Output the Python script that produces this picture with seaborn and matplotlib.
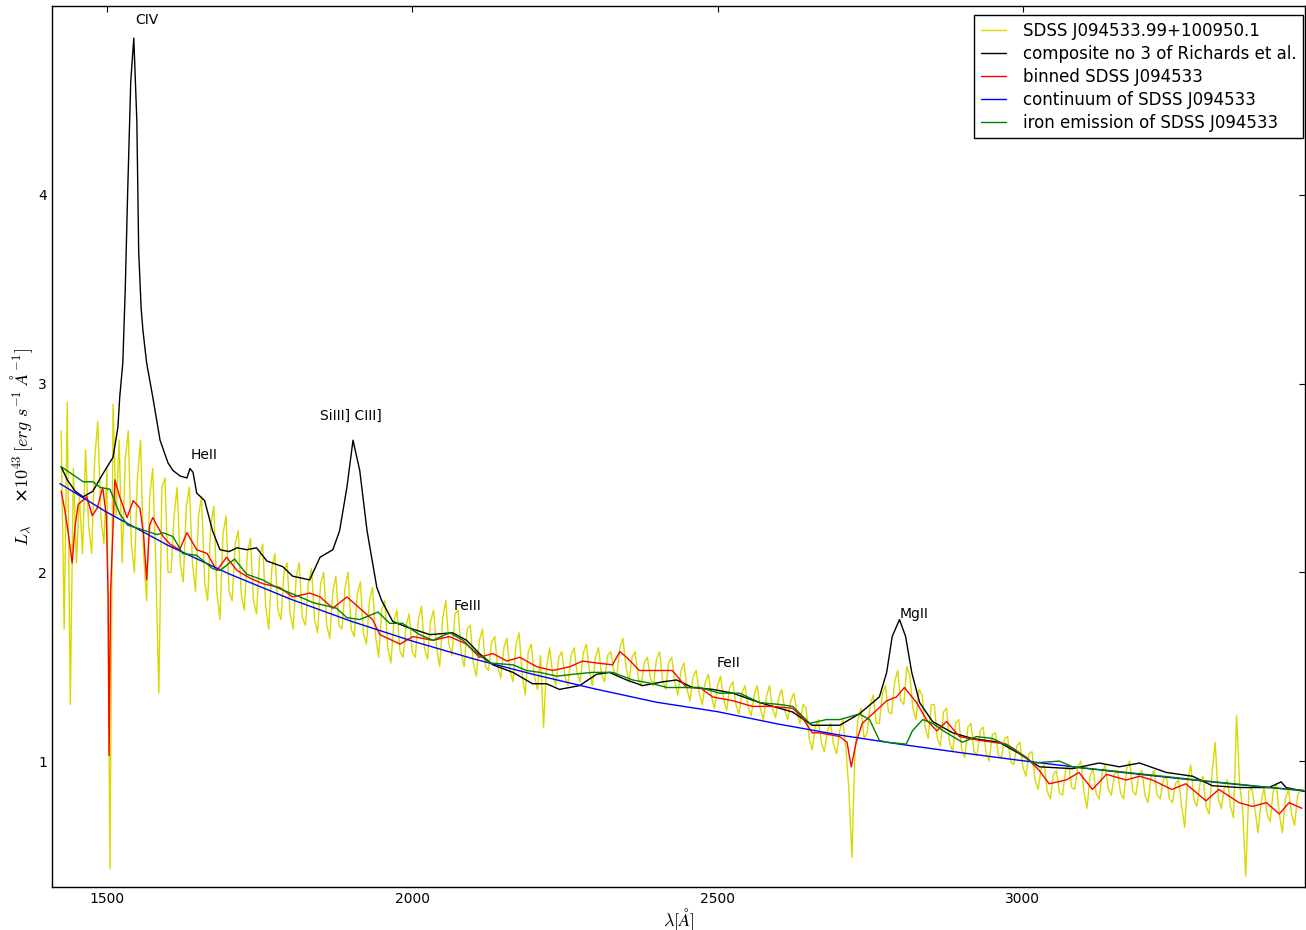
import numpy as np
import pandas as pd
import matplotlib
matplotlib.use("Agg")
import matplotlib.pyplot as plt
import seaborn as sns

# observed SDSS spectrum, one value every 5 A starting at 1425 A (20 values = 100 A per row)
sdss_wave = np.arange(1425, 3456, 5)
sdss_flux = [
    2.75, 1.70, 2.90, 1.30, 2.55, 2.05, 2.40, 2.10, 2.65, 2.25, 2.10, 2.60, 2.80, 2.30, 2.15, 2.55, 0.43, 2.89, 2.30, 2.70,  # 1425
    2.05, 2.60, 2.75, 2.15, 2.00, 2.50, 2.70, 2.10, 1.85, 2.40, 2.55, 2.05, 1.36, 2.45, 2.50, 2.00, 2.00, 2.30, 2.45, 2.05,  # 1525
    1.95, 2.35, 2.45, 2.05, 1.90, 2.30, 2.40, 1.95, 1.85, 2.25, 2.35, 1.90, 1.75, 2.20, 2.30, 1.90, 1.85, 2.15, 2.22, 1.88,  # 1625
    1.80, 2.10, 2.18, 1.85, 1.78, 2.08, 2.15, 1.82, 1.70, 2.02, 2.10, 1.80, 1.75, 2.00, 2.05, 1.78, 1.70, 1.98, 2.05, 1.76,  # 1725
    1.72, 1.95, 2.02, 1.75, 1.68, 1.94, 2.00, 1.72, 1.65, 1.90, 1.98, 1.72, 1.70, 1.92, 2.00, 1.70, 1.66, 1.88, 1.95, 1.68,  # 1825
    1.62, 1.85, 1.92, 1.66, 1.55, 1.80, 1.85, 1.60, 1.52, 1.74, 1.80, 1.58, 1.55, 1.72, 1.78, 1.58, 1.55, 1.75, 1.82, 1.60,  # 1925
    1.54, 1.74, 1.80, 1.60, 1.50, 1.76, 1.85, 1.62, 1.56, 1.78, 1.80, 1.58, 1.50, 1.70, 1.72, 1.52, 1.45, 1.64, 1.70, 1.50,  # 2025
    1.48, 1.63, 1.66, 1.50, 1.44, 1.60, 1.65, 1.48, 1.42, 1.62, 1.68, 1.46, 1.35, 1.58, 1.62, 1.45, 1.38, 1.56, 1.18, 1.50,  # 2125
    1.60, 1.46, 1.40, 1.55, 1.58, 1.45, 1.40, 1.56, 1.60, 1.47, 1.42, 1.57, 1.62, 1.48, 1.40, 1.55, 1.60, 1.46, 1.42, 1.56,  # 2225
    1.58, 1.48, 1.45, 1.60, 1.65, 1.50, 1.42, 1.55, 1.58, 1.44, 1.40, 1.52, 1.55, 1.44, 1.40, 1.54, 1.58, 1.43, 1.38, 1.52,  # 2325
    1.55, 1.42, 1.35, 1.48, 1.52, 1.38, 1.32, 1.45, 1.48, 1.36, 1.30, 1.42, 1.46, 1.34, 1.28, 1.40, 1.45, 1.33, 1.27, 1.39,  # 2425
    1.42, 1.30, 1.25, 1.36, 1.40, 1.29, 1.24, 1.35, 1.40, 1.28, 1.22, 1.34, 1.40, 1.28, 1.23, 1.33, 1.38, 1.27, 1.22, 1.32,  # 2525
    1.36, 1.26, 1.20, 1.30, 1.28, 1.12, 1.06, 1.18, 1.22, 1.10, 1.05, 1.16, 1.20, 1.09, 1.04, 1.16, 1.22, 1.08, 0.85, 0.49,  # 2625
    1.05, 1.22, 1.28, 1.12, 1.15, 1.30, 1.35, 1.20, 1.20, 1.36, 1.40, 1.26, 1.25, 1.42, 1.48, 1.32, 1.30, 1.50, 1.45, 1.28,  # 2725
    1.22, 1.38, 1.35, 1.18, 1.12, 1.30, 1.30, 1.12, 1.08, 1.26, 1.28, 1.10, 1.05, 1.20, 1.22, 1.06, 1.02, 1.18, 1.20, 1.05,  # 2825
    1.03, 1.16, 1.18, 1.04, 1.00, 1.14, 1.15, 1.03, 1.02, 1.12, 1.13, 1.00, 0.98, 1.08, 1.10, 0.97, 0.92, 1.04, 1.05, 0.90,  # 2925
    0.85, 0.96, 0.98, 0.84, 0.80, 0.93, 0.95, 0.83, 0.82, 0.95, 0.98, 0.86, 0.85, 0.97, 1.00, 0.84, 0.75, 0.92, 0.96, 0.83,  # 3025
    0.80, 0.94, 0.98, 0.85, 0.82, 0.93, 0.95, 0.83, 0.80, 0.96, 1.00, 0.84, 0.82, 0.93, 0.95, 0.82, 0.78, 0.92, 0.95, 0.82,  # 3125
    0.80, 0.90, 0.92, 0.80, 0.78, 0.88, 0.90, 0.76, 0.65, 0.90, 0.98, 0.80, 0.76, 0.88, 0.92, 0.76, 0.72, 0.94, 1.10, 0.80,  # 3225
    0.75, 0.86, 0.90, 0.76, 0.70, 1.24, 0.88, 0.74, 0.39, 0.84, 0.86, 0.75, 0.62, 0.78, 0.86, 0.72, 0.68, 0.84, 0.88, 0.72,  # 3325
    0.62, 0.80, 0.85, 0.72, 0.66, 0.82, 0.85,                                                                               # 3425
]

# composite no 3 of Richards et al.
comp_wave = [1425, 1435, 1448, 1461, 1477, 1493, 1510, 1518, 1521, 1526,
             1530, 1534, 1539, 1544, 1549, 1552, 1556, 1559, 1565, 1575,
             1587, 1600, 1608, 1620, 1631, 1636, 1641, 1647, 1660, 1673,
             1685, 1700, 1713, 1729, 1745, 1762, 1788, 1804, 1832, 1849,
             1870, 1881, 1893, 1903, 1914, 1926, 1942, 1950, 1968, 1991,
             2029, 2066, 2089, 2110, 2132, 2165, 2197, 2220, 2241, 2274,
             2302, 2323, 2351, 2377, 2410, 2433, 2459, 2492, 2525, 2569,
             2623, 2655, 2700, 2732, 2765, 2777, 2786, 2798, 2808, 2818,
             2831, 2852, 2885, 2917, 2961, 2994, 3027, 3081, 3125, 3158,
             3191, 3235, 3278, 3310, 3354, 3403, 3423, 3431, 3461]
comp_flux = [2.56, 2.49, 2.43, 2.40, 2.43, 2.52, 2.61, 2.77, 2.93, 3.11,
             3.50, 4.02, 4.60, 4.83, 4.39, 3.70, 3.40, 3.28, 3.11, 2.93,
             2.70, 2.58, 2.54, 2.51, 2.50, 2.55, 2.53, 2.42, 2.38, 2.22,
             2.12, 2.11, 2.13, 2.12, 2.13, 2.06, 2.03, 1.98, 1.96, 2.08,
             2.12, 2.22, 2.45, 2.70, 2.54, 2.22, 1.92, 1.85, 1.74, 1.71,
             1.67, 1.68, 1.64, 1.57, 1.51, 1.47, 1.41, 1.41, 1.38, 1.40,
             1.46, 1.47, 1.43, 1.40, 1.42, 1.43, 1.39, 1.38, 1.36, 1.31,
             1.26, 1.19, 1.19, 1.25, 1.34, 1.47, 1.66, 1.75, 1.66, 1.47,
             1.31, 1.21, 1.15, 1.12, 1.10, 1.04, 0.97, 0.96, 0.99, 0.97,
             0.99, 0.94, 0.92, 0.87, 0.86, 0.86, 0.89, 0.86, 0.84]

# binned SDSS J094533
binned_wave = [1425, 1431, 1437, 1443, 1448, 1453, 1467, 1476, 1484, 1493,
               1499, 1502, 1503.5, 1506, 1513, 1521, 1533, 1543, 1554, 1560,
               1565, 1570, 1575, 1592, 1603, 1619, 1631, 1647, 1664, 1680,
               1696, 1713, 1734, 1755, 1783, 1804, 1832, 1849, 1870, 1893,
               1914, 1935, 1947, 1980, 2001, 2034, 2061, 2089, 2110, 2132,
               2155, 2176, 2204, 2230, 2258, 2279, 2302, 2328, 2340, 2351,
               2372, 2400, 2426, 2449, 2471, 2492, 2525, 2557, 2590, 2623,
               2639, 2655, 2667, 2700, 2712, 2719, 2727, 2737, 2754, 2777,
               2793, 2806, 2826, 2842, 2859, 2875, 2896, 2929, 2973, 3006,
               3027, 3043, 3071, 3092, 3114, 3137, 3169, 3191, 3212, 3244,
               3267, 3300, 3321, 3354, 3376, 3399, 3420, 3436, 3457]
binned_flux = [2.43, 2.33, 2.20, 2.05, 2.25, 2.36, 2.40, 2.30, 2.34, 2.45,
               2.30, 1.87, 1.03, 1.90, 2.49, 2.40, 2.29, 2.38, 2.34, 2.20,
               1.96, 2.25, 2.29, 2.19, 2.15, 2.12, 2.21, 2.12, 2.10, 2.01,
               2.08, 2.01, 1.97, 1.94, 1.92, 1.87, 1.89, 1.87, 1.81, 1.87,
               1.81, 1.75, 1.67, 1.62, 1.66, 1.64, 1.66, 1.62, 1.55, 1.57,
               1.53, 1.55, 1.50, 1.48, 1.50, 1.53, 1.52, 1.51, 1.58, 1.55,
               1.48, 1.48, 1.48, 1.39, 1.39, 1.34, 1.32, 1.29, 1.29, 1.28,
               1.23, 1.15, 1.15, 1.13, 1.10, 0.97, 1.10, 1.20, 1.25, 1.32,
               1.34, 1.39, 1.31, 1.22, 1.16, 1.21, 1.13, 1.11, 1.09, 1.02,
               0.95, 0.88, 0.90, 0.94, 0.85, 0.93, 0.90, 0.92, 0.90, 0.85,
               0.88, 0.79, 0.85, 0.78, 0.76, 0.78, 0.72, 0.78, 0.75]

# power-law continuum
cont_wave = [1423, 1500, 1600, 1700, 1800, 1900, 2000, 2100, 2200, 2300, 2400,
             2500, 2600, 2700, 2800, 2900, 3000, 3100, 3200, 3300, 3400, 3457]
cont_flux = [2.47, 2.318, 2.143, 1.992, 1.859, 1.741, 1.636, 1.542, 1.458, 1.382, 1.312,
             1.262, 1.196, 1.138, 1.089, 1.044, 1.002, 0.963, 0.927, 0.893, 0.861, 0.844]

# continuum + iron emission
iron_wave = [1425, 1461, 1477, 1489, 1505, 1521, 1534, 1554, 1582, 1592,
             1608, 1624, 1647, 1673, 1685, 1709, 1729, 1755, 1778, 1816,
             1837, 1876, 1893, 1914, 1944, 1963, 1984, 2012, 2034, 2061,
             2083, 2099, 2127, 2165, 2187, 2209, 2237, 2263, 2295, 2328,
             2361, 2394, 2417, 2438, 2471, 2503, 2536, 2569, 2602, 2623,
             2651, 2678, 2700, 2711, 2732, 2749, 2765, 2777, 2809, 2819,
             2836, 2852, 2875, 2901, 2924, 2950, 2983, 3016, 3060, 3081,
             3200, 3300, 3400, 3460]
iron_flux = [2.56, 2.48, 2.48, 2.45, 2.44, 2.31, 2.25, 2.23, 2.20, 2.21,
             2.19, 2.10, 2.09, 2.02, 2.01, 2.07, 1.99, 1.96, 1.92, 1.87,
             1.84, 1.81, 1.76, 1.75, 1.79, 1.73, 1.73, 1.67, 1.64, 1.68,
             1.64, 1.59, 1.52, 1.51, 1.48, 1.47, 1.45, 1.46, 1.47, 1.47,
             1.43, 1.41, 1.39, 1.39, 1.39, 1.36, 1.36, 1.31, 1.30, 1.29,
             1.20, 1.22, 1.22, 1.23, 1.25, 1.22, 1.11, 1.10, 1.09, 1.16,
             1.22, 1.20, 1.15, 1.10, 1.13, 1.12, 1.07, 0.99, 1.00, 0.97,
             0.93, 0.895, 0.862, 0.845]

line_names = ["CIV", "HeII", "SiIII] CIII]", "FeIII", "FeII", "MgII"]
line_wave = [1546, 1637, 1849, 2068, 2498, 2798]
line_level = [4.905, 2.60, 2.81, 1.80, 1.50, 1.76]

sns.set_style("white")
plt.rcParams.update({
    "font.family": ["DejaVu Sans"],
    "mathtext.fontset": "cm",
    "text.color": "black",
    "axes.labelcolor": "black",
    "xtick.color": "black",
    "ytick.color": "black",
    "xtick.direction": "in",
    "ytick.direction": "in",
    "xtick.top": True,
    "ytick.right": True,
    "xtick.major.size": 4,
    "ytick.major.size": 4,
    "xtick.labelsize": 10,
    "ytick.labelsize": 10,
    "axes.edgecolor": "black",
    "axes.linewidth": 1.0,
})

fig = plt.figure(figsize=(13.06, 9.3), dpi=100)
ax = fig.add_axes([0.0398, 0.0462, 0.9594, 0.9473])

series = [
    (sdss_wave, sdss_flux, "#d9d900", "SDSS J094533.99+100950.1"),
    (comp_wave, comp_flux, "black", "composite no 3 of Richards et al."),
    (binned_wave, binned_flux, "red", "binned SDSS J094533"),
    (cont_wave, cont_flux, "blue", "continuum of SDSS J094533"),
    (iron_wave, iron_flux, "green", "iron emission of SDSS J094533"),
]
for wave, flux, col, name in series:
    df = pd.DataFrame({"wave": wave, "flux": flux})
    sns.lineplot(data=df, x="wave", y="flux", ax=ax, color=col, lw=1.0,
                 label=name, estimator=None, errorbar=None)

for name, w, lev in zip(line_names, line_wave, line_level):
    ax.text(w, lev, name, fontsize=10)

ax.set_xlim(1410, 3462)
ax.set_ylim(0.333, 5.0)
ax.set_xticks([1500, 2000, 2500, 3000])
ax.set_yticks([1, 2, 3, 4])
ax.set_xlabel(r"$\lambda[\AA]$", fontsize=13, labelpad=0)
ax.set_ylabel(r"$L_\lambda$    ×$10^{43}\,[erg\ s^{-1}\ \AA^{-1}]$", fontsize=13, labelpad=2)

leg = ax.legend(loc="upper right", bbox_to_anchor=(0.9984, 0.9898), borderaxespad=0,
                fontsize=12, fancybox=False, edgecolor="black", framealpha=1,
                handlelength=1.5, labelspacing=0.3, borderpad=0.4, handletextpad=1.0)
leg.get_frame().set_linewidth(1.0)

fig.savefig("out.png", dpi=100)
